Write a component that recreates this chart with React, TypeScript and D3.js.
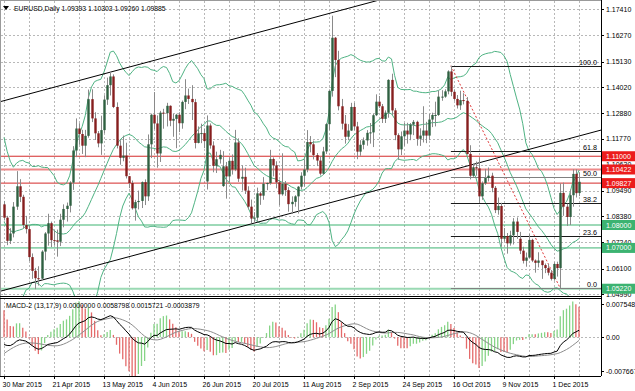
import { useEffect } from 'react';
import * as d3 from 'd3';

// EURUSD daily (MT4 style) — candles, Bollinger(20,2), channel, S/R levels, Fibo, MACD-2 sub window.

const W = 635;
const H = 391;
const PLOT_L = 1;
const PLOT_R = 601;
const MAIN_T = 1;
const MAIN_B = 296;
const SUB_T = 298;
const SUB_B = 376;
const FONT = "'Liberation Sans', Arial, sans-serif";

const BULL = '#2f6041';
const BEAR = '#861e1e';
const WICK = '#8a8a8a';
const BAND = '#4fb383';
const GRID = '#b8b8b8';

// [open, high, low, close] — 30 Mar 2015 .. 11 Dec 2015, one row per trading day
const ohlc: [number, number, number, number][] = [
  [1.0890, 1.0905, 1.0820, 1.0832], [1.0832, 1.0840, 1.0712, 1.0731], [1.0731, 1.0786, 1.0717, 1.0763],
  [1.0763, 1.0900, 1.0746, 1.0880], [1.0880, 1.1035, 1.0866, 1.0969], [1.0969, 1.1000, 1.0900, 1.0923],
  [1.0923, 1.0932, 1.0785, 1.0800], [1.0800, 1.0840, 1.0763, 1.0782], [1.0782, 1.0800, 1.0643, 1.0660],
  [1.0660, 1.0676, 1.0565, 1.0600], [1.0600, 1.0613, 1.0520, 1.0568], [1.0568, 1.0620, 1.0536, 1.0566],
  [1.0566, 1.0690, 1.0560, 1.0684], [1.0684, 1.0769, 1.0646, 1.0763], [1.0763, 1.0849, 1.0710, 1.0808],
  [1.0808, 1.0815, 1.0704, 1.0734], [1.0734, 1.0777, 1.0712, 1.0733], [1.0733, 1.0780, 1.0662, 1.0727],
  [1.0727, 1.0849, 1.0708, 1.0823], [1.0823, 1.0890, 1.0790, 1.0870], [1.0870, 1.0898, 1.0815, 1.0884],
  [1.0884, 1.0991, 1.0855, 1.0985], [1.0985, 1.1144, 1.0953, 1.1125], [1.1125, 1.1265, 1.1096, 1.1221],
  [1.1221, 1.1244, 1.1150, 1.1197], [1.1197, 1.1215, 1.1110, 1.1146], [1.1146, 1.1215, 1.1096, 1.1189],
  [1.1189, 1.1391, 1.1181, 1.1349], [1.1349, 1.1392, 1.1249, 1.1265], [1.1265, 1.1292, 1.1171, 1.1200],
  [1.1200, 1.1210, 1.1139, 1.1156], [1.1156, 1.1277, 1.1106, 1.1214], [1.1214, 1.1366, 1.1200, 1.1347],
  [1.1347, 1.1443, 1.1324, 1.1410], [1.1410, 1.1467, 1.1365, 1.1448], [1.1448, 1.1457, 1.1310, 1.1315],
  [1.1315, 1.1335, 1.1134, 1.1146], [1.1146, 1.1170, 1.1063, 1.1093], [1.1093, 1.1190, 1.1078, 1.1103],
  [1.1103, 1.1159, 1.1003, 1.1013], [1.1013, 1.1014, 1.0961, 1.0983], [1.0983, 1.0994, 1.0867, 1.0873],
  [1.0873, 1.0910, 1.0819, 1.0900], [1.0900, 1.0950, 1.0868, 1.0905], [1.0905, 1.0990, 1.0874, 1.0987],
  [1.0987, 1.0999, 1.0887, 1.0925], [1.0925, 1.1195, 1.0905, 1.1152], [1.1152, 1.1286, 1.1092, 1.1281],
  [1.1281, 1.1380, 1.1218, 1.1243], [1.1243, 1.1278, 1.1050, 1.1112], [1.1112, 1.1298, 1.1075, 1.1290],
  [1.1290, 1.1307, 1.1220, 1.1288], [1.1288, 1.1333, 1.1230, 1.1320], [1.1320, 1.1322, 1.1231, 1.1255],
  [1.1255, 1.1285, 1.1185, 1.1263], [1.1263, 1.1285, 1.1135, 1.1281], [1.1281, 1.1292, 1.1205, 1.1244],
  [1.1244, 1.1343, 1.1220, 1.1337], [1.1337, 1.1436, 1.1305, 1.1365], [1.1365, 1.1395, 1.1328, 1.1350],
  [1.1350, 1.1410, 1.1258, 1.1336], [1.1336, 1.1350, 1.1134, 1.1158], [1.1158, 1.1230, 1.1156, 1.1200],
  [1.1200, 1.1242, 1.1157, 1.1201], [1.1201, 1.1221, 1.1135, 1.1166], [1.0990, 1.1278, 1.0955, 1.1234],
  [1.1234, 1.1243, 1.1133, 1.1147], [1.1147, 1.1165, 1.1030, 1.1058], [1.1058, 1.1120, 1.1027, 1.1087],
  [1.1087, 1.1128, 1.1068, 1.1106], [1.0970, 1.1122, 1.0966, 1.1056], [1.1056, 1.1075, 1.0915, 1.1012],
  [1.1012, 1.1095, 1.0987, 1.1080], [1.1080, 1.1108, 1.1020, 1.1042], [1.1042, 1.1215, 1.1035, 1.1160],
  [1.1160, 1.1178, 1.0988, 1.1002], [1.1002, 1.1060, 1.0950, 1.1010], [1.1010, 1.1050, 1.0935, 1.0950],
  [1.0950, 1.0969, 1.0868, 1.0880], [1.0880, 1.0911, 1.0808, 1.0828], [1.0828, 1.0856, 1.0808, 1.0832],
  [1.0832, 1.0963, 1.0818, 1.0938], [1.0938, 1.0945, 1.0888, 1.0928], [1.0928, 1.1009, 1.0910, 1.0980],
  [1.0980, 1.0985, 1.0952, 1.0983], [1.0983, 1.1128, 1.0976, 1.1088], [1.1088, 1.1095, 1.1012, 1.1060],
  [1.1060, 1.1078, 1.0960, 1.0986], [1.0986, 1.0998, 1.0886, 1.0934], [1.0934, 1.1113, 1.0928, 1.0980],
  [1.0980, 1.0992, 1.0927, 1.0952], [1.0952, 1.0965, 1.0858, 1.0891], [1.0891, 1.0925, 1.0848, 1.0901],
  [1.0901, 1.0930, 1.0880, 1.0925], [1.0925, 1.0970, 1.0850, 1.0967], [1.0967, 1.1030, 1.0955, 1.1015],
  [1.1015, 1.1087, 1.0968, 1.1042], [1.1042, 1.1214, 1.1030, 1.1162], [1.1162, 1.1188, 1.1117, 1.1152],
  [1.1152, 1.1168, 1.1086, 1.1105], [1.1105, 1.1114, 1.1057, 1.1081], [1.1081, 1.1098, 1.1016, 1.1024],
  [1.1024, 1.1141, 1.1018, 1.1121], [1.1121, 1.1245, 1.1110, 1.1240], [1.1240, 1.1388, 1.1215, 1.1385],
  [1.1385, 1.1713, 1.1360, 1.1617], [1.1617, 1.1620, 1.1445, 1.1520], [1.1520, 1.1560, 1.1300, 1.1318],
  [1.1318, 1.1350, 1.1217, 1.1242], [1.1242, 1.1280, 1.1155, 1.1185], [1.1185, 1.1240, 1.1170, 1.1212],
  [1.1212, 1.1333, 1.1210, 1.1315], [1.1315, 1.1333, 1.1214, 1.1230], [1.1230, 1.1250, 1.1087, 1.1120],
  [1.1120, 1.1170, 1.1102, 1.1150], [1.1150, 1.1182, 1.1130, 1.1169], [1.1169, 1.1214, 1.1146, 1.1202],
  [1.1202, 1.1245, 1.1155, 1.1204], [1.1204, 1.1285, 1.1140, 1.1279], [1.1279, 1.1370, 1.1275, 1.1338],
  [1.1338, 1.1363, 1.1310, 1.1318], [1.1318, 1.1328, 1.1245, 1.1263], [1.1263, 1.1300, 1.1245, 1.1290],
  [1.1290, 1.1436, 1.1268, 1.1433], [1.1433, 1.1460, 1.1280, 1.1300], [1.1300, 1.1310, 1.1170, 1.1192],
  [1.1192, 1.1200, 1.1085, 1.1130], [1.1130, 1.1208, 1.1105, 1.1187], [1.1187, 1.1245, 1.1145, 1.1212],
  [1.1212, 1.1246, 1.1155, 1.1195], [1.1195, 1.1245, 1.1170, 1.1238], [1.1238, 1.1258, 1.1192, 1.1250],
  [1.1250, 1.1255, 1.1146, 1.1176], [1.1176, 1.1222, 1.1145, 1.1190], [1.1190, 1.1318, 1.1160, 1.1212],
  [1.1212, 1.1250, 1.1157, 1.1190], [1.1190, 1.1285, 1.1170, 1.1260], [1.1260, 1.1290, 1.1227, 1.1280],
  [1.1280, 1.1338, 1.1230, 1.1280], [1.1280, 1.1387, 1.1276, 1.1360], [1.1360, 1.1388, 1.1342, 1.1360],
  [1.1360, 1.1392, 1.1355, 1.1383], [1.1383, 1.1475, 1.1370, 1.1470], [1.1470, 1.1495, 1.1362, 1.1381],
  [1.1381, 1.1390, 1.1342, 1.1350], [1.1350, 1.1367, 1.1308, 1.1322], [1.1322, 1.1386, 1.1302, 1.1345],
  [1.1345, 1.1375, 1.1326, 1.1342], [1.1342, 1.1358, 1.1107, 1.1110], [1.1110, 1.1148, 1.0999, 1.1015],
  [1.1015, 1.1068, 1.1010, 1.1052], [1.1052, 1.1077, 1.1015, 1.1047], [1.1047, 1.1095, 1.0896, 1.0925],
  [1.0925, 1.0990, 1.0910, 1.0982], [1.0982, 1.1045, 1.0975, 1.1005], [1.1005, 1.1051, 1.0990, 1.1015],
  [1.1015, 1.1028, 1.0943, 1.0962], [1.0962, 1.0970, 1.0852, 1.0865], [1.0865, 1.0920, 1.0845, 1.0883],
  [1.0883, 1.0897, 1.0705, 1.0740], [1.0740, 1.0787, 1.0728, 1.0752], [1.0752, 1.0765, 1.0675, 1.0720],
  [1.0720, 1.0775, 1.0710, 1.0755], [1.0755, 1.0830, 1.0715, 1.0815], [1.0815, 1.0833, 1.0740, 1.0770],
  [1.0740, 1.0770, 1.0673, 1.0688], [1.0688, 1.0705, 1.0632, 1.0644], [1.0644, 1.0680, 1.0618, 1.0658],
  [1.0658, 1.0760, 1.0655, 1.0735], [1.0735, 1.0740, 1.0638, 1.0645], [1.0645, 1.0650, 1.0592, 1.0635],
  [1.0635, 1.0681, 1.0615, 1.0645], [1.0645, 1.0645, 1.0565, 1.0625], [1.0625, 1.0632, 1.0590, 1.0612],
  [1.0612, 1.0631, 1.0580, 1.0592], [1.0592, 1.0603, 1.0558, 1.0565], [1.0565, 1.0637, 1.0557, 1.0630],
  [1.0630, 1.0640, 1.0575, 1.0612], [1.0612, 1.0981, 1.0524, 1.0940], [1.0940, 1.0985, 1.0840, 1.0880],
  [1.0880, 1.0893, 1.0796, 1.0835], [1.0835, 1.0955, 1.0800, 1.0930], [1.0930, 1.1043, 1.0880, 1.1023],
  [1.1023, 1.1043, 1.0920, 1.0939], [1.09393, 1.10303, 1.09260, 1.09885],
];

// closes before the first visible bar (Feb–Mar 2015), only used to warm up the indicators
const priorCloses = [
  1.1345, 1.1475, 1.1345, 1.1480, 1.1315, 1.1320, 1.1310, 1.1330, 1.1400, 1.1385,
  1.1400, 1.1410, 1.1410, 1.1370, 1.1380, 1.1330, 1.1340, 1.1365, 1.1200, 1.1195,
  1.1185, 1.1175, 1.1080, 1.1030, 1.0845, 1.0850, 1.0700, 1.0550, 1.0610, 1.0495,
  1.0565, 1.0595, 1.0865, 1.0655, 1.0815, 1.0940, 1.0925, 1.0970, 1.0890, 1.0890,
];

const priceTicks = [1.17410, 1.16270, 1.15130, 1.14020, 1.12880, 1.11770, 1.10630, 1.09490, 1.08380, 1.07240, 1.06100, 1.04990];
const dateTicks: [number, string][] = [
  [0, '30 Mar 2015'], [16, '21 Apr 2015'], [32, '13 May 2015'], [48, '4 Jun 2015'],
  [64, '26 Jun 2015'], [80, '20 Jul 2015'], [96, '11 Aug 2015'], [112, '2 Sep 2015'],
  [128, '24 Sep 2015'], [144, '16 Oct 2015'], [160, '9 Nov 2015'], [176, '1 Dec 2015'],
];
const redLevels = [1.11000, 1.10422, 1.09827];
const greenLevels = [1.08000, 1.07000, 1.05220];
const fibRatios = [0, 23.6, 38.2, 50, 61.8, 100];
const fibFrom = { bar: 143, price: 1.1495 };
const fibTo = { bar: 178, price: 1.0524 };
const channelAnchors = [{ bar: 80, price: 1.0808 }, { bar: 178, price: 1.11664 }];
const channelWidth = 0.0827;
const macdTicks: [number, string][] = [[0.007548, '0.007548'], [0, '0.00'], [-0.007667, '-0.007667']];
const titleText = 'EURUSD,Daily  1.09393 1.10303 1.09260 1.09885';
const macdTitle = 'MACD-2 (13,17,9) 0.0000000 0.0058798 0.0015721 -0.0003879';

function ema(src: number[], n: number) {
  const k = 2 / (n + 1);
  const out: number[] = [];
  src.forEach((v, i) => out.push(i === 0 ? v : out[i - 1] + k * (v - out[i - 1])));
  return out;
}

function sma(src: number[], n: number) {
  return src.map((_, i) => (i < n - 1 ? NaN : d3.mean(src.slice(i - n + 1, i + 1)) as number));
}

export default function App() {
  useEffect(() => {
    document.body.style.margin = '0';
  }, []);

  const nBars = ohlc.length;
  const x = d3.scaleLinear().domain([0, 184]).range([4, 579]);
  const y = d3.scaleLinear().domain([1.0499, 1.1741]).range([294, 9.3]);
  const ym = d3.scaleLinear().domain([-0.007667, 0.007548]).range([371, 304]);

  // Bollinger (20, 2) and MACD-2 (13,17,9) from the closes
  const closes = [...priorCloses, ...ohlc.map((d) => d[3])];
  const off = priorCloses.length;
  const mid = sma(closes, 20);
  const bands = d3.range(nBars).map((i) => {
    const j = i + off;
    const win = closes.slice(j - 19, j + 1);
    const m = mid[j];
    const sd = Math.sqrt(d3.mean(win.map((v) => (v - m) ** 2)) as number);
    return { i, mid: m, up: m + 2 * sd, lo: m - 2 * sd };
  });
  const e13 = ema(closes, 13);
  const e17 = ema(closes, 17);
  const macd = closes.map((_, j) => e13[j] - e17[j]);
  const signal = sma(macd, 9);
  const hist = macd.map((v, j) => 3 * (v - signal[j]));
  const macdRows = d3.range(nBars).map((i) => ({
    i, macd: macd[i + off], signal: signal[i + off], hist: hist[i + off], prev: hist[i + off - 1],
  }));

  const bandLine = (key: 'up' | 'mid' | 'lo') =>
    d3.line<typeof bands[number]>().x((d) => x(d.i)).y((d) => y(d[key]))(bands) ?? '';
  const macdLine = (key: 'macd' | 'signal') =>
    d3.line<typeof macdRows[number]>().x((d) => x(d.i)).y((d) => ym(d[key]))(macdRows) ?? '';

  const slope = (channelAnchors[1].price - channelAnchors[0].price) / (channelAnchors[1].bar - channelAnchors[0].bar);
  const chan = (b: number, shift: number) => y(channelAnchors[0].price + (b - channelAnchors[0].bar) * slope + shift);

  const fibRange = fibFrom.price - fibTo.price;
  const vGrid = d3.range(0, 185, 8);

  return (
    <svg width={W} height={H} style={{ display: 'block', background: '#fff', fontFamily: FONT }}>
      <defs>
        <clipPath id="main"><rect x={PLOT_L} y={MAIN_T} width={PLOT_R - PLOT_L} height={MAIN_B - MAIN_T} /></clipPath>
        <clipPath id="sub"><rect x={PLOT_L} y={SUB_T} width={PLOT_R - PLOT_L} height={SUB_B - SUB_T} /></clipPath>
      </defs>

      {/* grid */}
      <g stroke={GRID} strokeWidth={1} strokeDasharray="2,2" shapeRendering="crispEdges">
        {priceTicks.map((p) => <line key={p} x1={PLOT_L} x2={PLOT_R} y1={Math.round(y(p)) + 0.5} y2={Math.round(y(p)) + 0.5} />)}
        {vGrid.map((b) => (
          <g key={b}>
            <line x1={Math.round(x(b)) + 0.5} x2={Math.round(x(b)) + 0.5} y1={MAIN_T} y2={MAIN_B} />
            <line x1={Math.round(x(b)) + 0.5} x2={Math.round(x(b)) + 0.5} y1={SUB_T} y2={SUB_B} />
          </g>
        ))}
        <line x1={PLOT_L} x2={PLOT_R} y1={Math.round(ym(0)) + 0.5} y2={Math.round(ym(0)) + 0.5} />
      </g>

      <g clipPath="url(#main)">
        {/* support / resistance */}
        {redLevels.map((p, k) => (
          <line key={p} x1={PLOT_L} x2={PLOT_R} y1={y(p)} y2={y(p)}
            stroke={k === 1 ? '#ee8a8a' : '#d42a2a'} strokeWidth={k === 1 ? 2 : 1} />
        ))}
        {greenLevels.map((p, k) => (
          <line key={p} x1={PLOT_L} x2={PLOT_R} y1={y(p)} y2={y(p)}
            stroke={k === 2 ? '#9ad9b3' : '#3cb371'} strokeWidth={k === 2 ? 2 : 1} />
        ))}

        {/* bollinger */}
        {(['up', 'mid', 'lo'] as const).map((k) => (
          <path key={k} d={bandLine(k)} fill="none" stroke={BAND} strokeWidth={1} />
        ))}

        {/* channel */}
        <line x1={x(-3)} x2={x(195)} y1={chan(-3, 0)} y2={chan(195, 0)} stroke="#000" strokeWidth={1} />
        <line x1={x(-3)} x2={x(195)} y1={chan(-3, channelWidth)} y2={chan(195, channelWidth)} stroke="#000" strokeWidth={1} />

        {/* fibo */}
        <line x1={x(fibFrom.bar)} y1={y(fibFrom.price)} x2={x(fibTo.bar)} y2={y(fibTo.price)}
          stroke="#e03a3a" strokeWidth={1} strokeDasharray="2,2" />
        {fibRatios.map((r) => {
          const yy = Math.round(y(fibTo.price + (fibRange * r) / 100)) + 0.5;
          return (
            <g key={r}>
              <line x1={x(fibFrom.bar)} x2={PLOT_R} y1={yy} y2={yy}
                stroke={r === 0 || r === 50 ? '#808080' : '#1a1a1a'} strokeWidth={1} />
              <text x={597} y={yy - 2} fontSize={7.2} textAnchor="end" fill="#000">{r.toFixed(1)}</text>
            </g>
          );
        })}

        {/* candles */}
        {ohlc.map(([o, h, l, c], i) => {
          const cx = Math.round(x(i)) + 0.5;
          const top = y(Math.max(o, c));
          const bh = Math.max(1, y(Math.min(o, c)) - top);
          return (
            <g key={i}>
              <line x1={cx} x2={cx} y1={y(h)} y2={y(l)} stroke={WICK} strokeWidth={1} />
              <rect x={cx - 1.2} y={top} width={2.4} height={bh} fill={c >= o ? BULL : BEAR} />
            </g>
          );
        })}
      </g>

      {/* MACD sub window */}
      <g clipPath="url(#sub)">
        {macdRows.map((d) => (
          <line key={d.i} x1={x(d.i)} x2={x(d.i)} y1={ym(0)} y2={ym(d.hist)}
            stroke={d.hist > d.prev ? '#86d486' : '#e46a6a'} strokeWidth={1.3} />
        ))}
        <path d={macdLine('signal')} fill="none" stroke="#8c8c8c" strokeWidth={1} />
        <path d={macdLine('macd')} fill="none" stroke="#000" strokeWidth={1} />
      </g>

      {/* frames */}
      <g stroke="#000" strokeWidth={1} shapeRendering="crispEdges" fill="none">
        <line x1={0.5} x2={PLOT_R} y1={0.5} y2={0.5} stroke="#9a9a9a" />
        <line x1={0.5} x2={0.5} y1={0} y2={SUB_B} stroke="#9a9a9a" />
        <line x1={0} x2={PLOT_R} y1={MAIN_B + 0.5} y2={MAIN_B + 0.5} />
        <line x1={0} x2={PLOT_R} y1={SUB_T + 0.5} y2={SUB_T + 0.5} />
        <line x1={0} x2={PLOT_R} y1={SUB_B + 0.5} y2={SUB_B + 0.5} />
        <line x1={PLOT_R + 0.5} x2={PLOT_R + 0.5} y1={0} y2={SUB_B} />
      </g>

      {/* price axis */}
      <g fontSize={7} fill="#000">
        {priceTicks.map((p) => (
          <g key={p}>
            <line x1={PLOT_R} x2={PLOT_R + 3} y1={Math.round(y(p)) + 0.5} y2={Math.round(y(p)) + 0.5} stroke="#000" />
            <text x={PLOT_R + 5} y={y(p) + 2.5}>{p.toFixed(5)}</text>
          </g>
        ))}
        {redLevels.map((p) => (
          <g key={p}>
            <rect x={PLOT_R + 1} y={y(p) - 5} width={W - PLOT_R} height={10} fill="#ec1c1c" />
            <text x={PLOT_R + 5} y={y(p) + 2.5} fill="#fff">{p.toFixed(5)}</text>
          </g>
        ))}
        {greenLevels.map((p) => (
          <g key={p}>
            <rect x={PLOT_R + 1} y={y(p) - 5} width={W - PLOT_R} height={10} fill="#3cb371" />
            <text x={PLOT_R + 5} y={y(p) + 2.5} fill="#fff">{p.toFixed(5)}</text>
          </g>
        ))}
        {macdTicks.map(([v, label]) => (
          <g key={label}>
            <line x1={PLOT_R} x2={PLOT_R + 3} y1={Math.round(ym(v)) + 0.5} y2={Math.round(ym(v)) + 0.5} stroke="#000" />
            <text x={PLOT_R + 5} y={ym(v) + 2.5}>{label}</text>
          </g>
        ))}
      </g>

      {/* time axis */}
      <g fontSize={7} fill="#000">
        {dateTicks.map(([b, label]) => (
          <g key={label}>
            <line x1={Math.round(x(b)) + 0.5} x2={Math.round(x(b)) + 0.5} y1={SUB_B} y2={SUB_B + 3} stroke="#000" />
            <text x={x(b) - 1.5} y={387}>{label}</text>
          </g>
        ))}
      </g>

      {/* titles */}
      <path d="M3,6 L9,6 L6,10 Z" fill="#000" />
      <text x={14} y={10.5} fontSize={6.8} fill="#000">{titleText}</text>
      <text x={6} y={308} fontSize={6.8} fill="#000">{macdTitle}</text>
    </svg>
  );
}
